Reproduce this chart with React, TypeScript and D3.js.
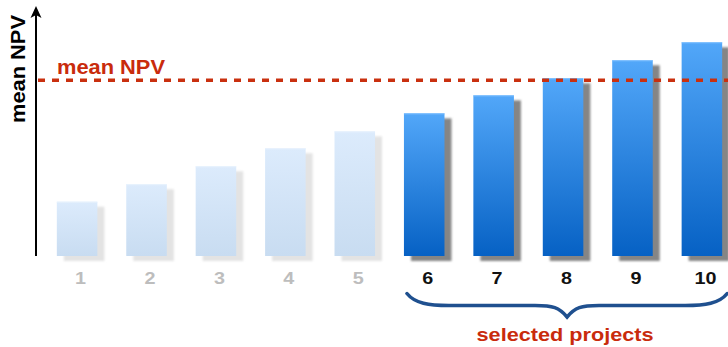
import React from "react";
import * as d3 from "d3";

const categories = ["1", "2", "3", "4", "5", "6", "7", "8", "9", "10"];
const npvValues = [3.05, 4.03, 5.04, 6.05, 7.0, 8.01, 9.02, 9.98, 10.99, 12];
const selected = [false, false, false, false, false, true, true, true, true, true];
const meanNPV = 9.87;
const yAxisLabel = "mean NPV";
const meanLabel = "mean NPV";
const braceLabel = "selected projects";

const W = 728;
const H = 347;
const FONT = "'Liberation Sans', Arial, Helvetica, sans-serif";

export default function App() {
  const axisX = 36;
  const baseY = 256;
  const x = d3
    .scaleBand<string>()
    .domain(categories)
    .range([axisX, 743])
    .paddingInner(0.416)
    .paddingOuter(0.3);
  const y = d3.scaleLinear().domain([0, 12]).range([baseY, 42.3]);
  const bw = x.bandwidth();

  const selCats = categories.filter((_, i) => selected[i]);
  const bx0 = (x(selCats[0]) as number) + 3;
  const bx1 = (x(selCats[selCats.length - 1]) as number) + bw + 5;
  const bmid = (bx0 + bx1) / 2;
  const bTop = 293.5;
  const bMidY = 305.5;
  const bTip = 317;
  const bracePath = d3.path();
  bracePath.moveTo(bx0, bTop);
  bracePath.bezierCurveTo(bx0 + 8, bMidY - 2, bx0 + 22, bMidY, bx0 + 42, bMidY);
  bracePath.lineTo(bmid - 32, bMidY);
  bracePath.bezierCurveTo(bmid - 14, bMidY, bmid - 8, bMidY + 2, bmid, bTip);
  bracePath.bezierCurveTo(bmid + 8, bMidY + 2, bmid + 14, bMidY, bmid + 32, bMidY);
  bracePath.lineTo(bx1 - 42, bMidY);
  bracePath.bezierCurveTo(bx1 - 22, bMidY, bx1 - 8, bMidY - 2, bx1, bTop);

  return (
    <svg
      width={W}
      height={H}
      style={{ position: "absolute", left: 0, top: 0, background: "#fff" }}
      fontFamily={FONT}
    >
      <defs>
        <linearGradient id="gSel" x1="0" y1="0" x2="0" y2="1">
          <stop offset="0" stopColor="#52a7f9" />
          <stop offset="1" stopColor="#0661c4" />
        </linearGradient>
        <linearGradient id="gFade" x1="0" y1="0" x2="0" y2="1">
          <stop offset="0" stopColor="#dcebfc" />
          <stop offset="1" stopColor="#c8dcf1" />
        </linearGradient>
        <filter id="blur" x="-20%" y="-20%" width="140%" height="140%">
          <feGaussianBlur stdDeviation="1.3" />
        </filter>
      </defs>

      {/* shadows */}
      {categories.map((c, i) => (
        <rect
          key={"s" + c}
          x={(x(c) as number) + 7}
          y={y(npvValues[i]) + 5}
          width={bw}
          height={baseY - y(npvValues[i])}
          fill={selected[i] ? "#858585" : "#e3e3e3"}
          filter="url(#blur)"
        />
      ))}

      {/* bars */}
      {categories.map((c, i) => (
        <g key={"b" + c}>
          <rect
            x={x(c) as number}
            y={y(npvValues[i])}
            width={bw}
            height={baseY - y(npvValues[i])}
            fill={selected[i] ? "url(#gSel)" : "url(#gFade)"}
          />
          <line
            x1={x(c) as number}
            x2={(x(c) as number) + bw}
            y1={y(npvValues[i]) + 0.5}
            y2={y(npvValues[i]) + 0.5}
            stroke={selected[i] ? "#7fc0ff" : "#e8f2fd"}
            strokeWidth={1}
          />
        </g>
      ))}

      {/* y axis */}
      <line
        x1={axisX}
        x2={axisX}
        y1={baseY}
        y2={14}
        stroke="#000"
        strokeWidth={2}
      />
      <path d={`M${axisX},6 L${axisX + 5.5},18 L${axisX},15 L${axisX - 5.5},18 Z`} fill="#000" />
      <text
        transform={`translate(25,69) rotate(-90)`}
        textAnchor="middle"
        fontSize={19.5}
        fontWeight="bold"
        fill="#000"
        textLength={108}
        lengthAdjust="spacingAndGlyphs"
      >
        {yAxisLabel}
      </text>

      {/* mean line */}
      <line
        x1={axisX + 2}
        x2={W}
        y1={y(meanNPV)}
        y2={y(meanNPV)}
        stroke="#c9300f"
        strokeWidth={3.5}
        strokeDasharray="7,7"
      />
      <text
        x={57}
        y={74}
        fontSize={19.5}
        fontWeight="bold"
        fill="#c92b0c"
        textLength={108}
        lengthAdjust="spacingAndGlyphs"
      >
        {meanLabel}
      </text>

      {/* tick labels */}
      {categories.map((c, i) => (
        <text
          key={"t" + c}
          x={(x(c) as number) + bw / 2 + 3.5}
          y={284}
          textAnchor="middle"
          fontSize={17}
          fontWeight="bold"
          fill={selected[i] ? "#111" : "#bdbdbd"}
          textLength={c.length * 11}
          lengthAdjust="spacingAndGlyphs"
        >
          {c}
        </text>
      ))}

      {/* brace */}
      <path
        d={bracePath.toString()}
        fill="none"
        stroke="#1f508f"
        strokeWidth={3.5}
        strokeLinecap="round"
      />
      <text
        x={bmid - 2}
        y={341}
        textAnchor="middle"
        fontSize={19}
        fontWeight="bold"
        fill="#c92b0c"
        textLength={177}
        lengthAdjust="spacingAndGlyphs"
      >
        {braceLabel}
      </text>
    </svg>
  );
}
